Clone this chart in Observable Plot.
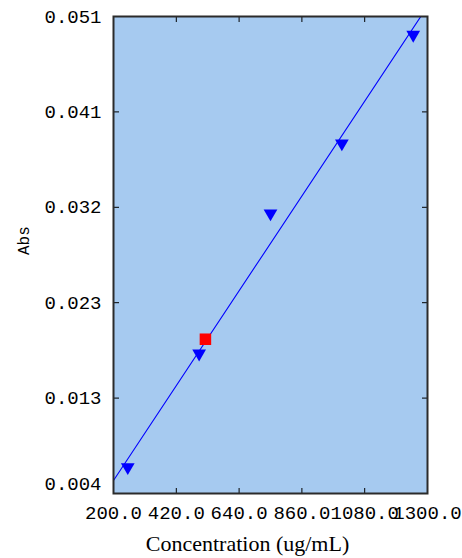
<!DOCTYPE html>
<html>
<head>
<meta charset="utf-8">
<script src="https://cdn.jsdelivr.net/npm/d3@7"></script>
<script src="https://cdn.jsdelivr.net/npm/@observablehq/plot@0.6"></script>
<style>
  html, body { margin: 0; padding: 0; background: #ffffff; }
  #chart svg { display: block; }
</style>
</head>
<body>
<div id="chart"></div>
<script>
// Standard samples (blue down-triangles)
const concentrations = [250, 500, 750, 1000, 1250];
const absorbances = [0.0064, 0.0176, 0.0314, 0.0383, 0.0490];
// Unknown sample (red square)
const sampleConc = [522];
const sampleAbs = [0.0190];
// Fitted calibration line endpoints
const fitX = [200, 1300];
const fitY = [0.00508, 0.0518];
// Axis ticks
const xTicks = [200, 420, 640, 860, 1080, 1300];
const yTicks = [0.0038, 0.0132, 0.0226, 0.0320, 0.0414, 0.0508];
const xLabel = "Concentration (ug/mL)";
const yLabel = "Abs";

const standards = concentrations.map((c, i) => ({x: c, y: absorbances[i]}));
const samples = sampleConc.map((c, i) => ({x: c, y: sampleAbs[i]}));
const fit = fitX.map((x, i) => ({x, y: fitY[i]}));

const triangleDown = {
  draw(ctx, size) {
    const y = Math.sqrt(size / (3 * Math.sqrt(3)));
    ctx.moveTo(0, 2 * y);
    ctx.lineTo(-Math.sqrt(3) * y, -y);
    ctx.lineTo(Math.sqrt(3) * y, -y);
    ctx.closePath();
  }
};

const mono = "Liberation Mono, DejaVu Sans Mono, monospace";
const fmtX = d3.format(".1f");
const fmtY = d3.format(".3f");

const chart = Plot.plot({
  width: 462,
  height: 558,
  marginLeft: 113,
  marginRight: 35,
  marginTop: 16,
  marginBottom: 65,
  style: {background: "#ffffff", color: "#000000"},
  x: {domain: [200, 1300]},
  y: {domain: [0.0038, 0.0508]},
  marks: [
    Plot.frame({fill: "#A6CAF0", stroke: null}),
    Plot.line(fit, {x: "x", y: "y", stroke: "#0000ff", strokeWidth: 1.1, clip: true}),
    Plot.dot(standards, {x: "x", y: "y", symbol: triangleDown, r: 5.1, fill: "#0000ff", stroke: null}),
    Plot.dot(samples, {x: "x", y: "y", symbol: "square", r: 6.5, fill: "#ff0000", stroke: null}),
    // bottom axis
    Plot.axisX({anchor: "bottom", ticks: xTicks, tickSize: -5, tickPadding: 17, tickFormat: fmtX,
      fontFamily: mono, fontSize: 19, stroke: "#000", fill: "#000", label: null}),
    // top ticks
    Plot.axisX({anchor: "top", ticks: xTicks, tickSize: -5, fill: "none", stroke: "#000", label: null}),
    // left axis (without the bottom label)
    Plot.axisY({anchor: "left", ticks: yTicks.slice(1), tickSize: -6, tickPadding: 18, tickFormat: fmtY,
      fontFamily: mono, fontSize: 19, stroke: "#000", fill: "#000", label: null}),
    // bottom-most y label, lifted above the corner
    Plot.text([yTicks[0]], {y: d => d, text: d => fmtY(d), frameAnchor: "left", textAnchor: "end",
      dx: -12, dy: -10, fontFamily: mono, fontSize: 19, fill: "#000"}),
    // right ticks
    Plot.axisY({anchor: "right", ticks: yTicks, tickSize: -6, fill: "none", stroke: "#000", label: null}),
    Plot.frame({stroke: "#2b2b2b", strokeWidth: 2}),
    // axis titles
    Plot.text([xLabel], {text: d => d, frameAnchor: "bottom", dy: 57, dx: -23,
      fontFamily: "Liberation Serif, Times New Roman, serif", fontSize: 22, fill: "#000"}),
    Plot.text([yLabel], {text: d => d, frameAnchor: "left", dx: -90, rotate: -90,
      fontFamily: mono, fontSize: 16, fill: "#000"})
  ]
});

document.getElementById("chart").appendChild(chart);
</script>
</body>
</html>
